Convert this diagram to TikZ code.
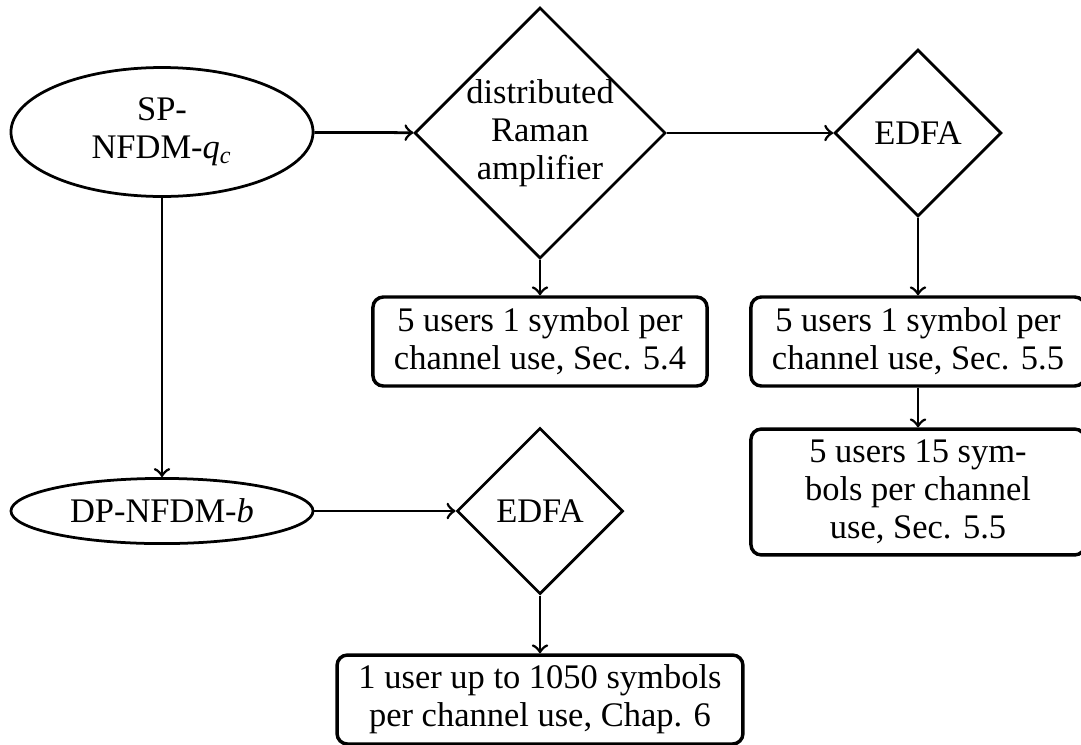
\documentclass[tikz,border=0pt]{standalone}
\usepackage{fontspec}
\setmainfont{Liberation Serif}
\usetikzlibrary{shapes.geometric}
\begin{document}
\begin{tikzpicture}[x=0.29pt,y=-0.29pt,
  every node/.style={font=\fontsize{10}{11}\selectfont, inner sep=0pt, align=center},
  ell/.style={ellipse, draw, line width=0.8pt, minimum width=87.6pt},
  dia/.style={diamond, draw, line width=0.8pt},
  res/.style={rectangle, draw, line width=1pt, rounded corners=3pt, minimum width=96.9pt, minimum height=25.8pt},
  arr/.style={->, line width=0.8pt}]
\useasboundingbox (0,0) rectangle (1081,744);
\node[ell, minimum height=37.4pt] (sp) at (162,132) {SP-\\NFDM-\textit{q}\textsubscript{\textit{c}}};
\node[dia, minimum width=72.8pt, minimum height=72.8pt,
      label={[align=center]center:distributed\\Raman\\amplifier}] (raman) at (540,133) {};
\node[dia, minimum width=48.4pt, minimum height=48.4pt] (edfa1) at (918,133) {EDFA};
\node[res] (box1) at (540,341.5) {5 users 1 symbol per\\channel use, Sec. 5.4};
\node[res] (box2) at (918,341.5) {5 users 1 symbol per\\channel use, Sec. 5.5};
\node[res, minimum height=36.5pt] (box3) at (918,492) {5 users 15 sym-\\bols per channel\\use, Sec. 5.5};
\node[ell, minimum height=18.9pt] (dp) at (162,511) {DP-NFDM-\textit{b}};
\node[dia, minimum width=48.2pt, minimum height=48.2pt] (edfa2) at (540,511) {EDFA};
\node[res, minimum width=117.7pt] (box4) at (540,699.5) {1 user up to 1050 symbols\\per channel use, Chap. 6};
\draw[arr] (sp) -- (raman);
\draw[arr] (raman) -- (edfa1);
\draw[arr] (raman) -- (box1);
\draw[arr] (edfa1) -- (box2);
\draw[arr] (box2) -- (box3);
\draw[arr] (sp) -- (dp);
\draw[arr] (dp) -- (edfa2);
\draw[arr] (edfa2) -- (box4);
\end{tikzpicture}
\end{document}
